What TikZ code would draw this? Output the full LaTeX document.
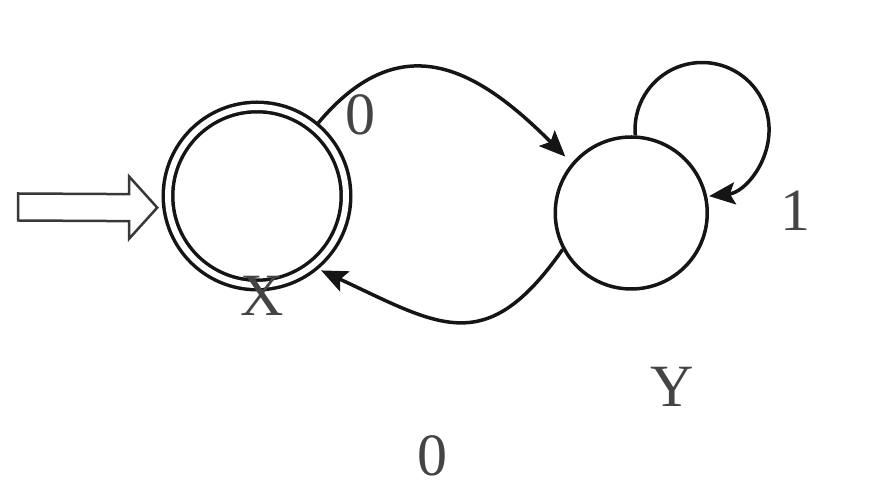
\documentclass[tikz,border=0pt]{standalone}
\usepackage{fontspec}
\setmainfont{Liberation Serif}
\usetikzlibrary{arrows.meta,positioning,calc}
\definecolor{ink}{HTML}{151515}
\definecolor{lbl}{HTML}{444444}

\begin{document}
\begin{tikzpicture}[
x=1pt,y=1pt,
every node/.style={font=\fontsize{60}{60}\selectfont,text=lbl,inner sep=1pt},
state/.style={circle,draw=ink,line width=3.5pt,minimum size=152pt,inner sep=0pt},
accept/.style={state,double,double distance=6pt,minimum size=178pt,outer sep=6.5pt},
arr/.style={-{Stealth[length=26pt,width=22pt,inset=5pt]},line width=3.5pt,draw=ink},
startarr/.style={draw=ink!85,line width=2.5pt,line join=miter}
]
\useasboundingbox (0,0) rectangle (895,487);
\node[accept] (x) at (257,291) {};
\node[state,right=201pt of x,yshift=-17pt] (y) {};
\node (lx) at (262,191) {X};
\node (ly) at (672,100) {Y};
\node (l0a) at (360,372) {0};
\node (l0b) at (432,31) {0};
\node (l1) at (795,276) {1};
% start arrow
\coordinate (s) at (18,280);
\coordinate (tip) at ([xshift=-5pt]x.187);
\draw[startarr] ($(s)+(0,13.5)$) -- ($(tip)+(-28,13.5)$) -- ($(tip)+(-28,31)$) -- (tip)
  -- ($(tip)+(-28,-31)$) -- ($(tip)+(-28,-13.5)$) -- ($(s)+(0,-13.5)$) -- cycle;
% transitions
\draw[arr,shorten >=9pt] (x.50) to[out=50,in=135,looseness=1.3] (y.140);
\draw[arr,shorten >=3pt] (y.208) to[out=235,in=-25,looseness=1.4] (x.-50);
\draw[arr] (y.87) arc[start angle=185,end angle=-84,radius=67];
\end{tikzpicture}
\end{document}
